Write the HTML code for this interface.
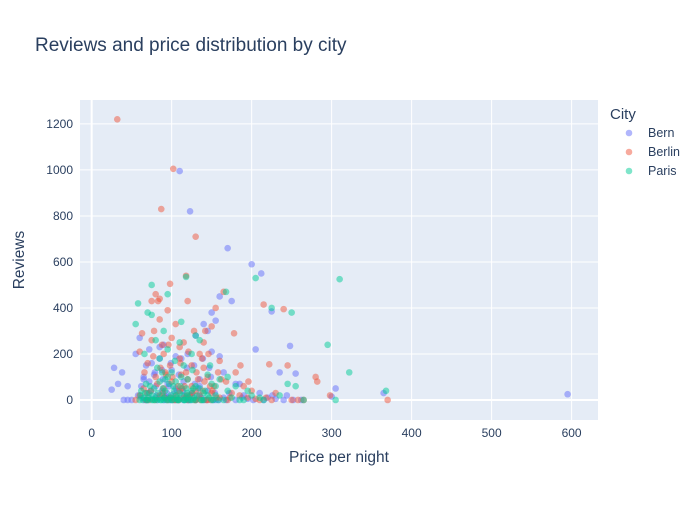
<!DOCTYPE html>
<html><head><meta charset="utf-8">
<style>
body{margin:0;background:#fff;font-family:"Liberation Sans",Arial,sans-serif;}
svg text{font-family:"Liberation Sans",Arial,sans-serif;fill:#2a3f5f;}
</style></head>
<body>
<svg id="chart" width="700" height="500" xmlns="http://www.w3.org/2000/svg">
<rect width="700" height="500" fill="#fff"/>
<text x="35" y="51" font-size="19">Reviews and price distribution by city</text>
<rect x="80" y="100" width="518" height="320" fill="#e5ecf6"/>
<g id="grid"></g>
<g id="marks"></g>
<g id="ticks"></g>
<text x="339" y="462" font-size="15.5" text-anchor="middle">Price per night</text>
<text transform="translate(24,260) rotate(-90)" font-size="15.5" text-anchor="middle">Reviews</text>
<g>
<text x="610" y="119" font-size="15">City</text>
<g id="legend"></g>
</g>
</svg>
<script>
const cities = ["Bern","Berlin","Paris"];
const colors = ["#636efa","#EF553B","#00cc96"];
const xTicks = [0,100,200,300,400,500,600];
const yTicks = [0,200,400,600,800,1000,1200];
const bernPrice = [25,28,38,45,55,60,62,65,68,70,72,75,78,80,82,85,88,90,92,95,98,100,102,105,108,110,112,115,118,120,123,125,128,130,135,140,145,150,155,160,165,170,175,180,190,200,205,212,220,225,230,248,252,255,300,305,365,595,50,58,65,75,85,95,105,115,125,135,145,155,165,185,195,210,235,45,70,90,110,130,150,140,160,180,120,100,33,40,215,240,
 62,68,74,79,84,89,94,99,104,109,114,119,124,129,134,139,144,149,154,159,72,88,97,116,133,147,172,188,202,226,66,81,93,107,121,137,152,168,244,262];
const bernReviews = [45,140,120,60,200,270,10,90,150,30,220,5,110,60,0,180,40,240,15,70,0,130,25,50,0,995,180,80,10,200,820,30,150,0,60,330,300,380,345,450,120,660,430,70,20,590,220,550,10,385,5,235,0,115,15,50,30,25,0,20,100,160,230,10,190,0,20,90,40,0,10,70,5,30,120,0,0,0,5,280,210,0,190,0,0,0,70,0,0,0,
 60,0,40,120,10,90,30,160,0,110,40,140,0,70,20,180,0,100,30,0,80,130,60,20,50,140,30,10,0,20,0,20,0,40,0,10,0,0,20,0];
const berlinPrice = [32,102,87,130,98,118,95,83,80,120,165,178,215,240,222,245,280,282,298,370,258,186,88,60,70,75,78,85,90,92,100,105,108,110,112,115,120,125,128,130,135,138,140,145,148,150,155,160,168,175,180,190,195,200,210,230,250,265,60,65,72,80,85,95,100,105,110,115,120,125,130,135,140,145,150,160,170,185,205,225,75,85,110,98,118,142,158,66,55,90,
 63,69,77,82,86,91,96,101,106,111,116,121,126,131,136,141,146,151,156,162,68,74,93,103,113,123,133,143,153,173,79,89,99,109,119,129,139,149,196,218];
const berlinReviews = [1220,1005,830,710,505,540,390,430,460,430,470,290,415,395,155,150,100,80,20,0,0,150,240,210,160,260,300,350,200,120,270,330,60,180,110,250,90,150,300,40,200,180,250,100,60,320,400,170,80,30,120,60,10,40,0,30,0,0,20,50,0,100,20,0,80,0,40,10,0,60,0,20,140,0,30,10,0,20,5,0,430,440,230,150,120,300,120,120,0,50,
 290,30,190,70,140,10,240,100,20,160,60,210,30,120,0,80,200,40,10,90,0,40,110,0,50,20,90,0,60,10,0,30,10,0,20,0,40,0,80,10];
const parisPrice = [310,205,118,95,75,70,55,58,168,225,250,295,322,368,305,245,255,200,75,80,85,90,95,100,105,110,115,120,125,130,135,140,145,150,155,160,170,180,190,210,60,62,65,68,70,72,75,78,80,82,85,88,90,92,95,98,100,102,105,108,110,112,115,118,120,122,125,128,130,135,140,145,150,155,165,175,195,215,235,265,66,88,104,126,148,170,112,130,92,82,
 61,64,67,71,73,76,79,83,86,89,91,94,97,99,101,103,106,109,111,113,116,119,121,124,127,132,137,142,147,152,69,77,87,96,107,117,127,138,158,185];
const parisReviews = [525,530,535,460,500,380,330,420,470,400,380,240,120,40,0,70,60,20,370,260,180,300,220,120,80,250,150,90,200,60,260,30,110,70,20,90,40,60,0,10,0,40,10,70,0,30,0,50,10,0,80,20,0,40,100,10,0,60,20,0,30,100,0,50,20,0,40,10,0,50,0,20,0,60,0,10,40,0,20,0,200,120,170,130,150,100,340,280,90,140,
 20,0,30,10,60,20,0,30,0,50,10,0,70,20,0,40,10,0,60,20,0,30,10,0,50,20,0,40,10,0,0,0,0,0,0,0,0,0,0,0];
const prices = [bernPrice, berlinPrice, parisPrice];
const reviews = [bernReviews, berlinReviews, parisReviews];

const NS = "http://www.w3.org/2000/svg";
const X0 = 80, X1 = 598, Y0 = 100, Y1 = 420;
const xMin = -14.6, xMax = 633, yMin = -87, yMax = 1304;
function xs(v){ return X0 + (v - xMin) / (xMax - xMin) * (X1 - X0); }
function ys(v){ return Y1 - (v - yMin) / (yMax - yMin) * (Y1 - Y0); }
function mk(tag, attrs){ const e = document.createElementNS(NS, tag); for (const k in attrs) e.setAttribute(k, attrs[k]); return e; }

const grid = document.getElementById('grid'), ticks = document.getElementById('ticks');
xTicks.forEach(t => {
  const l = mk('line', {x1: xs(t), x2: xs(t), y1: Y0, y2: Y1, stroke: '#fff', 'stroke-width': t === 0 ? 2 : 1});
  
  
  grid.appendChild(l);
  const tx = mk('text', {x: xs(t), y: 437, 'font-size': 12, 'text-anchor': 'middle'});
  tx.textContent = t;
  
  
  ticks.appendChild(tx);
});
yTicks.forEach(t => {
  const l = mk('line', {x1: X0, x2: X1, y1: ys(t), y2: ys(t), stroke: '#fff', 'stroke-width': t === 0 ? 2 : 1});
  
  
  grid.appendChild(l);
  const tx = mk('text', {x: 73, y: ys(t) + 4, 'font-size': 12, 'text-anchor': 'end'});
  tx.textContent = t;
  
  
  ticks.appendChild(tx);
});
const marks = document.getElementById('marks');
cities.forEach((c, i) => {
  const g = mk('g', {});
  
  
  prices[i].forEach((p, j) => {
    const pt = mk('circle', {cx: xs(p), cy: ys(reviews[i][j]), r: 3.3, fill: colors[i], 'fill-opacity': 0.5});
    
    
    g.appendChild(pt);
  });
  marks.appendChild(g);
});
const legend = document.getElementById('legend');
cities.forEach((c, i) => {
  const g = mk('g', {});
  
  
  const y = 133 + i * 19;
  g.appendChild(mk('circle', {cx: 629, cy: y, r: 3.3, fill: colors[i], 'fill-opacity': 0.5}));
  const t = mk('text', {x: 648, y: y + 4, 'font-size': 12.5});
  t.textContent = c;
  g.appendChild(t);
  legend.appendChild(g);
});
</script>
</body></html>
